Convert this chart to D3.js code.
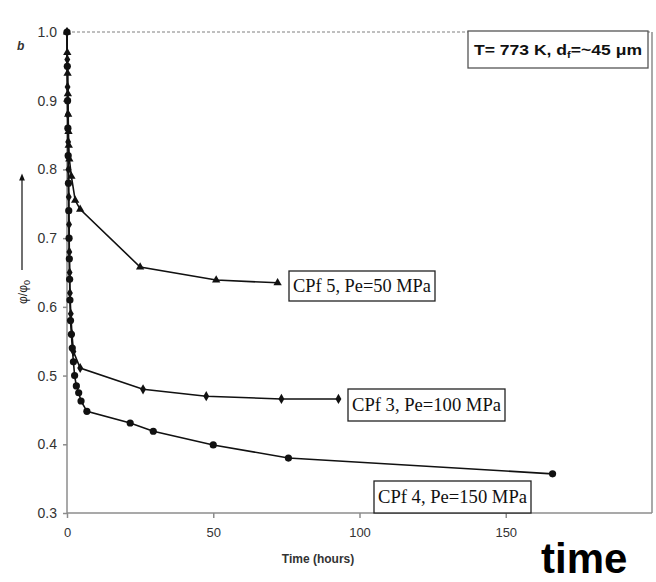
<!DOCTYPE html>
<html>
<head>
<meta charset="utf-8">
<script src="https://cdn.jsdelivr.net/npm/d3@7"></script>
<style>
  html, body { margin: 0; padding: 0; background: #fff; }
  svg { display: block; }
</style>
</head>
<body>
<svg id="chart" width="656" height="582"></svg>
<script>
// Normalised porosity phi/phi0 against sintering time at T = 773 K
const xTicks = [0, 50, 100, 150];
const yTicks = [0.3, 0.4, 0.5, 0.6, 0.7, 0.8, 0.9, 1.0];

const cpf5Time  = [0, 0.1, 0.2, 0.3, 0.4, 0.5, 0.6, 0.8, 1.5, 2.8, 4.5, 25, 51, 72];
const cpf5Value = [1.0, 0.97, 0.94, 0.91, 0.88, 0.855, 0.835, 0.815, 0.79, 0.755, 0.742, 0.658, 0.639, 0.635];

const cpf3Time  = [0, 0.1, 0.2, 0.3, 0.4, 0.5, 0.6, 0.7, 0.8, 0.9, 1.0, 1.3, 1.7, 2.2, 4.5, 26, 47.6, 73.3, 92.8];
const cpf3Value = [1.0, 0.96, 0.92, 0.88, 0.84, 0.80, 0.76, 0.72, 0.68, 0.65, 0.62, 0.59, 0.56, 0.535, 0.511, 0.480, 0.470, 0.466, 0.466];

const cpf4Time  = [0, 0.1, 0.2, 0.3, 0.4, 0.5, 0.6, 0.7, 0.8, 0.9, 1.0, 1.2, 1.5, 1.8, 2.2, 2.6, 3.2, 4.0, 4.8, 6.8, 21.6, 29.5, 50, 75.7, 166];
const cpf4Value = [1.0, 0.95, 0.90, 0.86, 0.82, 0.78, 0.74, 0.70, 0.67, 0.64, 0.61, 0.58, 0.56, 0.54, 0.52, 0.50, 0.485, 0.475, 0.463, 0.448, 0.431, 0.419, 0.399, 0.380, 0.357];

const seriesLabels = ["CPf 5, Pe=50 MPa", "CPf 3, Pe=100 MPa", "CPf 4, Pe=150 MPa"];

const svg = d3.select("#chart");
const x = d3.scaleLinear().domain([0, 200]).range([67, 652]);
const y = d3.scaleLinear().domain([0.3, 1.0]).range([513, 32]);

const grey = "#8c8c8c";
const axisFont = "Liberation Sans, Arial, sans-serif";

// frame: dashed top, solid right, bottom axis, left axis
svg.append("line").attr("x1", x(0)).attr("x2", x(200)).attr("y1", y(1.0)).attr("y2", y(1.0))
  .attr("stroke", "#aaa").attr("stroke-width", 1.5).attr("stroke-dasharray", "3,2");
svg.append("line").attr("x1", x(200)).attr("x2", x(200)).attr("y1", y(1.0)).attr("y2", y(0.3))
  .attr("stroke", grey).attr("stroke-width", 1.5);

const xAxis = d3.axisBottom(x).tickValues(xTicks).tickSize(5).tickFormat(d3.format("d"));
const gx = svg.append("g").attr("transform", `translate(0,${y(0.3)})`).call(xAxis);
gx.select(".domain").attr("stroke", grey).attr("stroke-width", 1.5).attr("d", `M${x(0)},0H${x(200)}`);
gx.selectAll(".tick line").attr("stroke", grey).attr("stroke-width", 1.5);
gx.selectAll(".tick text").attr("font-family", axisFont).attr("font-size", 13)
  .attr("fill", "#333").attr("y", 24).attr("dy", "0");

const yAxis = d3.axisLeft(y).tickValues(yTicks).tickSize(4).tickFormat(d3.format(".1f"));
const gy = svg.append("g").attr("transform", `translate(${x(0)},0)`).call(yAxis);
gy.select(".domain").attr("stroke", grey).attr("stroke-width", 1.5).attr("d", `M0,${y(0.3)}V${y(1.0)}`);
gy.selectAll(".tick line").attr("stroke", grey).attr("stroke-width", 1.5);
gy.selectAll(".tick text").attr("font-family", axisFont).attr("font-size", 14)
  .attr("fill", "#333").attr("x", -10);

// axis titles
svg.append("text").attr("x", 318).attr("y", 563).attr("text-anchor", "middle")
  .attr("font-family", axisFont).attr("font-size", 12).attr("font-weight", "bold")
  .attr("fill", "#333").text("Time (hours)");

svg.append("text").attr("x", 17).attr("y", 50).attr("font-family", axisFont)
  .attr("font-size", 12).attr("font-style", "italic").attr("font-weight", "bold").attr("fill", "#333").text("b");

const yl = svg.append("text").attr("transform", "translate(27,292) rotate(-90)")
  .attr("text-anchor", "middle").attr("font-family", axisFont).attr("font-size", 12)
  .attr("fill", "#222");
yl.append("tspan").text("\u03c6/\u03c6");
yl.append("tspan").attr("font-size", 9).attr("dy", 3).text("0");

svg.append("defs").append("marker").attr("id", "arrow").attr("viewBox", "0 0 10 10")
  .attr("refX", 5).attr("refY", 5).attr("markerWidth", 6).attr("markerHeight", 7).attr("orient", "auto")
  .append("path").attr("d", "M0,1L10,5L0,9Z").attr("fill", "#111");
svg.append("line").attr("x1", 22).attr("x2", 22).attr("y1", 270).attr("y2", 177)
  .attr("stroke", "#111").attr("stroke-width", 1.2).attr("marker-end", "url(#arrow)");

// series
const line = d3.line().x(d => x(d[0])).y(d => y(d[1]));
const zip = (t, v) => t.map((d, i) => [d, v[i]]);
const data5 = zip(cpf5Time, cpf5Value);
const data3 = zip(cpf3Time, cpf3Value);
const data4 = zip(cpf4Time, cpf4Value);

[data4, data3, data5].forEach(dd => {
  svg.append("path").datum(dd).attr("d", line).attr("fill", "none")
    .attr("stroke", "#111").attr("stroke-width", 1.6);
});

svg.append("g").selectAll("path").data(data5).join("path")
  .attr("transform", d => `translate(${x(d[0])},${y(d[1])})`)
  .attr("d", d3.symbol(d3.symbolTriangle, 30)).attr("fill", "#111");
svg.append("g").selectAll("path").data(data3).join("path")
  .attr("transform", d => `translate(${x(d[0])},${y(d[1])})`)
  .attr("d", d3.symbol(d3.symbolDiamond, 30)).attr("fill", "#111");
svg.append("g").selectAll("circle").data(data4).join("circle")
  .attr("cx", d => x(d[0])).attr("cy", d => y(d[1])).attr("r", 3.6).attr("fill", "#111");

// boxed series labels
const serif = "Liberation Serif, Times New Roman, serif";
const boxes = [
  { label: seriesLabels[0], x0: 289, y0: 271, w: 146, h: 30 },
  { label: seriesLabels[1], x0: 348, y0: 389, w: 157, h: 32 },
  { label: seriesLabels[2], x0: 374, y0: 481, w: 157, h: 32 }
];
boxes.forEach(b => {
  svg.append("rect").attr("x", b.x0).attr("y", b.y0).attr("width", b.w).attr("height", b.h)
    .attr("fill", "#fff").attr("stroke", "#222").attr("stroke-width", 1.3);
  svg.append("text").attr("x", b.x0 + 4).attr("y", b.y0 + b.h / 2 + 6)
    .attr("font-family", serif).attr("font-size", 18).attr("fill", "#111")
    .attr("textLength", b.w - 8).attr("lengthAdjust", "spacingAndGlyphs").text(b.label);
});

// condition box
svg.append("rect").attr("x", 468).attr("y", 31).attr("width", 180).attr("height", 37)
  .attr("fill", "#fff").attr("stroke", "#555").attr("stroke-width", 1.3);
const cond = svg.append("text").attr("x", 474).attr("y", 55).attr("font-family", axisFont)
  .attr("font-size", 14).attr("font-weight", "bold").attr("fill", "#111")
  .attr("textLength", 168).attr("lengthAdjust", "spacingAndGlyphs");
cond.append("tspan").text("T= 773 K, d");
cond.append("tspan").attr("font-size", 9).attr("dy", 3).text("f");
cond.append("tspan").attr("dy", -3).text("=~45 \u03bcm");

// corner caption
svg.append("text").attr("x", 541).attr("y", 573).attr("font-family", axisFont)
  .attr("font-size", 42).attr("font-weight", "bold").attr("fill", "#000").text("time");
</script>
</body>
</html>
